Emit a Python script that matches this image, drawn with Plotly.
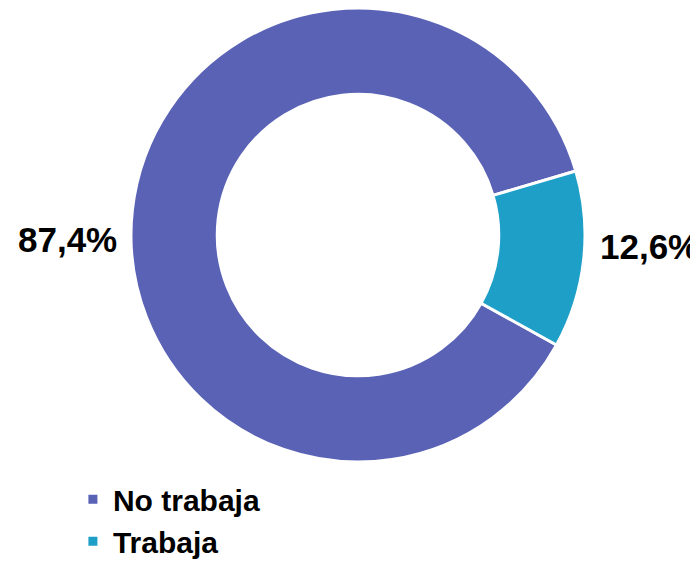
import plotly.graph_objects as go

labels = ['No trabaja', 'Trabaja']
values = [87.4, 12.6]
colors = ['#5A62B6', '#1E9FC7']

pct_text = [f"{v:.1f}".replace('.', ',') + '%' for v in values]

FONT = 'Liberation Sans, Arial, sans-serif'

fig = go.Figure(go.Pie(
    labels=labels,
    values=values,
    textinfo='none',
    hole=0.62,
    sort=False,
    direction='clockwise',
    rotation=119,
    marker=dict(colors=colors, line=dict(color='#ffffff', width=3)),
    domain=dict(x=[122 / 698, 578 / 698], y=[110 / 564, 564 / 564]),
    hoverinfo='label+percent',
))

# percentage labels beside the ring
label_pos = [(60, 232), (641, 238)]
for txt, (px, py) in zip(pct_text, label_pos):
    fig.add_annotation(
        x=px / 698, y=1 - py / 564, xref='paper', yref='paper',
        text=txt, showarrow=False, xanchor='center', yanchor='middle',
        font=dict(family=FONT, size=35, color='#000000', weight='bold'),
    )

fig.update_layout(
    width=698, height=564,
    margin=dict(l=0, r=0, t=0, b=0),
    paper_bgcolor='#ffffff',
    plot_bgcolor='#ffffff',
    font=dict(family=FONT, color='#000000'),
    showlegend=True,
    legend=dict(
        x=0.093, y=0.175, xanchor='left', yanchor='top',
        font=dict(size=30, color='#000000', family=FONT, weight='bold'),
        itemwidth=30,
        bgcolor='rgba(0,0,0,0)',
    ),
)

fig.write_html("out.html")
